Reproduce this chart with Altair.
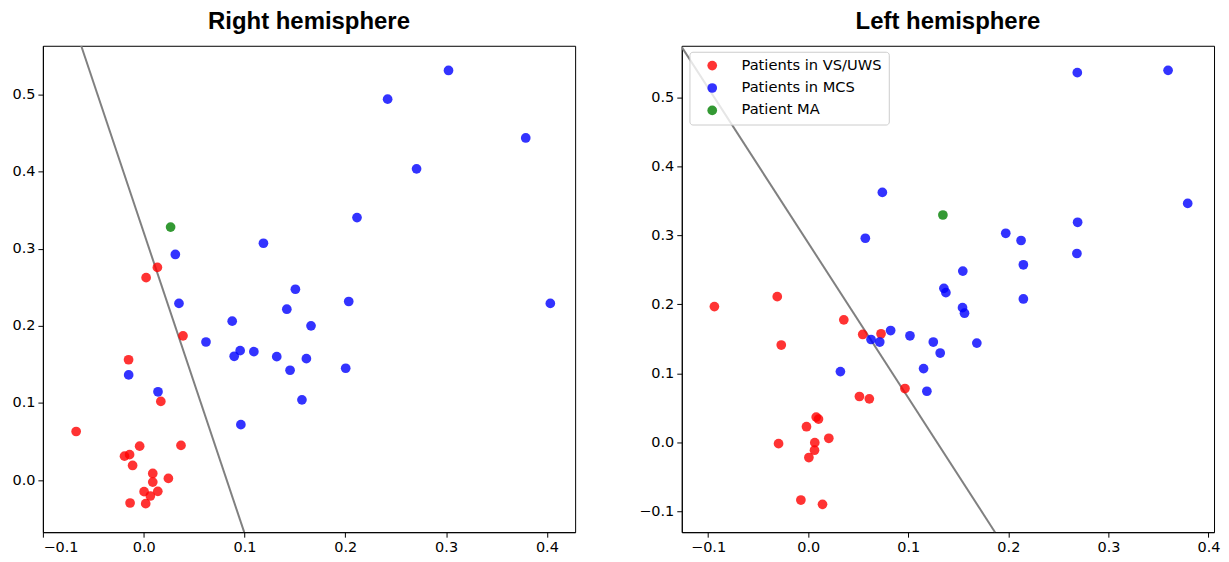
import altair as alt
import pandas as pd

GROUPS = ["Patients in VS/UWS", "Patients in MCS", "Patient MA"]
COLORS = ["#ff0000", "#0000ff", "#008000"]

# ---- Right hemisphere ----
r_vs_x = [-0.067, -0.015, 0.017, 0.039, -0.004, 0.037, -0.019, -0.014, -0.011, 0.009,
          0.009, 0.0245, 0.0004, 0.0066, 0.014, -0.0135, 0.002, 0.0024, 0.0136]
r_vs_y = [0.063, 0.156, 0.102, 0.187, 0.044, 0.045, 0.031, 0.033, 0.019, 0.0086,
          -0.0026, 0.0022, -0.015, -0.0206, -0.0146, -0.0297, -0.0305, 0.2624, 0.2757]
r_mcs_x = [0.0314, 0.1188, 0.1505, 0.035, 0.0878, 0.142, 0.166, 0.0618, 0.0898, 0.0957,
           0.1093, 0.132, 0.1452, 0.1614, 0.157, 0.0964, -0.0149, 0.0142, 0.3024, 0.242,
           0.379, 0.2707, 0.2116, 0.2034, 0.4034, 0.2004]
r_mcs_y = [0.2925, 0.307, 0.2474, 0.229, 0.206, 0.2215, 0.200, 0.179, 0.1605, 0.1678,
           0.1665, 0.160, 0.1424, 0.1574, 0.104, 0.0719, 0.1364, 0.1145, 0.531, 0.4938,
           0.4435, 0.4035, 0.3403, 0.2315, 0.229, 0.145]
r_ma_x = [0.0267]
r_ma_y = [0.328]
r_line_x = [-0.062, 0.0997]
r_line_y = [0.563, -0.0675]

# ---- Left hemisphere ----
l_vs_x = [-0.0937, -0.0309, -0.0269, 0.0356, 0.0545, 0.0728, 0.0967, 0.0512, 0.0611, 0.008,
          0.0103, -0.0017, -0.0296, 0.0066, 0.0206, 0.0063, 0.0007, -0.0073, 0.0143]
l_vs_y = [0.1967, 0.2111, 0.141, 0.1775, 0.1563, 0.1573, 0.0779, 0.0664, 0.063, 0.0365,
          0.0336, 0.0226, -0.002, -0.0005, 0.0058, -0.0115, -0.0221, -0.0837, -0.090]
l_mcs_x = [0.0741, 0.0571, 0.0824, 0.1017, 0.0628, 0.0715, 0.0322, 0.2689, 0.3596, 0.3792,
           0.2692, 0.1974, 0.2127, 0.2685, 0.1545, 0.215, 0.1356, 0.1376, 0.215, 0.1542,
           0.1562, 0.125, 0.1685, 0.1319, 0.1153, 0.1186]
l_mcs_y = [0.3622, 0.2958, 0.162, 0.1544, 0.149, 0.1453, 0.1025, 0.5358, 0.5392, 0.3463,
           0.3189, 0.303, 0.2925, 0.2737, 0.2482, 0.2573, 0.2232, 0.2169, 0.2078, 0.1952,
           0.1871, 0.1453, 0.1438, 0.1294, 0.1068, 0.074]
l_ma_x = [0.1346]
l_ma_y = [0.3295]
l_line_x = [-0.1263, 0.1867]
l_line_y = [0.5729, -0.1303]

r_xdom = [-0.1, 0.428]
r_ydom = [-0.0675, 0.563]
l_xdom = [-0.1263, 0.4055]
l_ydom = [-0.1303, 0.5748]

r_xticks = [-0.1, 0.0, 0.1, 0.2, 0.3, 0.4]
r_yticks = [0.0, 0.1, 0.2, 0.3, 0.4, 0.5]
l_xticks = [-0.1, 0.0, 0.1, 0.2, 0.3, 0.4]
l_yticks = [-0.1, 0.0, 0.1, 0.2, 0.3, 0.4, 0.5]


def points_df(vx, vy, mx, my, ax, ay):
    rows = []
    for g, xs, ys in zip(GROUPS, [vx, mx, ax], [vy, my, ay]):
        for x, y in zip(xs, ys):
            rows.append({"x": x, "y": y, "group": g})
    return pd.DataFrame(rows)


def make_axis(values):
    return alt.Axis(
        values=values, format=".1f", title=None, grid=False,
        labelFont="DejaVu Sans", labelFontSize=14.5, labelColor="black",
        tickColor="black", domainColor="black", tickSize=5, labelPadding=3,
    )


def panel(title, df, line_x, line_y, xdom, ydom, xticks, yticks, legend):
    xs = alt.Scale(domain=xdom, nice=False, zero=False)
    ys = alt.Scale(domain=ydom, nice=False, zero=False)
    xax = make_axis(xticks)
    yax = make_axis(yticks)
    line = alt.Chart(pd.DataFrame({"x": line_x, "y": line_y})).mark_line(
        color="#808080", strokeWidth=2, clip=True
    ).encode(x=alt.X("x:Q", scale=xs, axis=xax), y=alt.Y("y:Q", scale=ys, axis=yax))
    color = alt.Color(
        "group:N",
        scale=alt.Scale(domain=GROUPS, range=COLORS),
        sort=GROUPS,
        legend=legend,
    )
    pts = alt.Chart(df).mark_circle(size=95, opacity=0.8).encode(
        x=alt.X("x:Q", scale=xs, axis=xax),
        y=alt.Y("y:Q", scale=ys, axis=yax),
        color=color,
    )
    return alt.layer(line, pts).properties(
        width=534,
        height=488,
        title=alt.TitleParams(
            title, font="Liberation Sans", fontSize=24, fontWeight="bold",
            anchor="middle", offset=12, color="black"
        ),
    )


legend = alt.Legend(
    title=None,
    orient="none",
    legendX=7.7,
    legendY=6,
    labelFont="DejaVu Sans",
    labelFontSize=14.7,
    labelColor="black",
    symbolType="circle",
    symbolSize=95,
    symbolOpacity=0.8,
    symbolStrokeWidth=0,
    symbolOffset=9,
    labelOffset=22,
    rowPadding=6.5,
    padding=6.5,
    strokeColor="#cccccc",
    fillColor="rgba(255,255,255,0.8)",
    cornerRadius=3,
)

left_chart = panel(
    "Right hemisphere",
    points_df(r_vs_x, r_vs_y, r_mcs_x, r_mcs_y, r_ma_x, r_ma_y),
    r_line_x, r_line_y, r_xdom, r_ydom, r_xticks, r_yticks, None,
)
right_chart = panel(
    "Left hemisphere",
    points_df(l_vs_x, l_vs_y, l_mcs_x, l_mcs_y, l_ma_x, l_ma_y),
    l_line_x, l_line_y, l_xdom, l_ydom, l_xticks, l_yticks, legend,
)

chart = alt.hconcat(left_chart, right_chart, spacing=62).resolve_legend(
    color="independent"
).properties(
    padding={"left": 3, "top": 0, "right": 0, "bottom": 0},
    background="white",
).configure_view(
    stroke="black", strokeWidth=1
)

chart.save("out.html", embed_options={"renderer": "svg", "actions": False})
